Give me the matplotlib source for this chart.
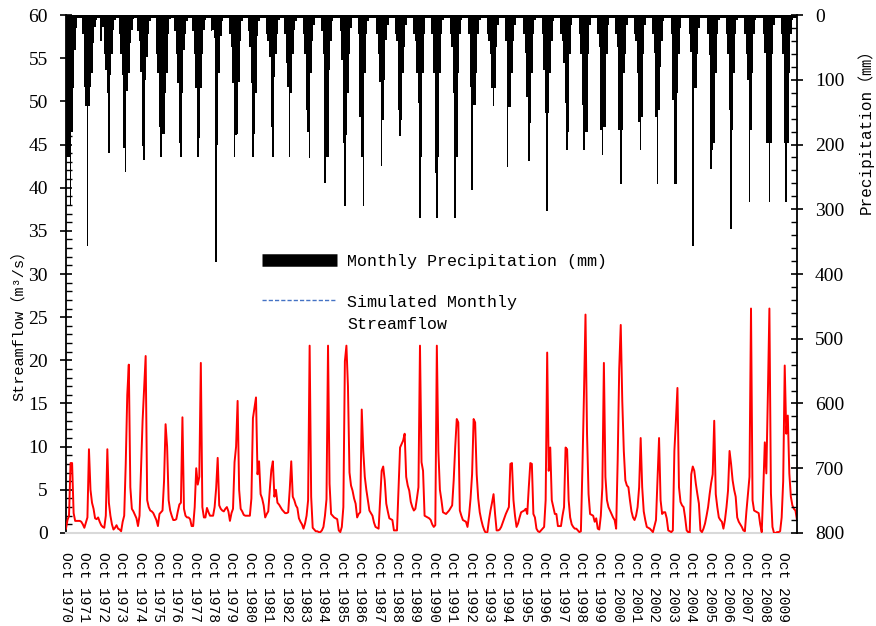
import numpy as np
import matplotlib.pyplot as plt
from matplotlib.lines import Line2D
from matplotlib.legend_handler import HandlerLine2D
from matplotlib.ticker import MultipleLocator

# water years Oct..Sep, Oct 1970 - Jul 2010
start_years = list(range(1970, 2010))

# simulated monthly streamflow (m3/s), one row per water year
flow = [
    [0.5, 1.5, 2.0, 8.1, 8.1, 2.3, 1.4, 1.4, 1.4, 1.4, 1.3, 1.0],
    [0.6, 1.2, 1.8, 9.7, 5.0, 3.5, 2.8, 1.7, 1.6, 1.8, 1.3, 0.9],
    [0.7, 0.6, 2.0, 9.7, 3.5, 2.0, 1.0, 0.4, 0.6, 0.9, 0.5, 0.4],
    [0.2, 1.3, 2.0, 8.0, 16.0, 19.5, 5.3, 2.8, 2.5, 2.1, 1.7, 0.8],
    [2.0, 7.5, 13.0, 16.8, 20.5, 3.8, 3.0, 2.6, 2.5, 2.3, 1.9, 1.5],
    [0.8, 2.2, 2.4, 2.6, 6.0, 12.6, 10.0, 3.8, 2.6, 2.0, 1.5, 1.5],
    [1.6, 2.5, 3.3, 3.5, 13.4, 2.8, 2.0, 1.8, 1.8, 1.6, 0.8, 0.8],
    [3.0, 7.5, 5.6, 6.5, 19.7, 3.0, 1.8, 1.8, 2.9, 2.4, 2.0, 2.0],
    [2.0, 3.0, 5.2, 8.7, 3.2, 2.8, 2.6, 2.5, 2.8, 3.0, 2.5, 1.4],
    [2.3, 2.8, 8.2, 10.0, 15.3, 5.0, 2.8, 2.5, 2.1, 2.0, 2.0, 2.0],
    [2.0, 4.0, 13.3, 14.5, 15.7, 6.8, 8.3, 4.5, 4.0, 3.2, 1.8, 2.2],
    [2.5, 5.0, 7.3, 8.3, 4.2, 5.0, 3.5, 3.3, 3.0, 2.7, 2.5, 2.3],
    [2.3, 2.4, 5.0, 8.3, 4.2, 3.8, 3.2, 2.9, 1.7, 1.3, 1.0, 0.5],
    [1.1, 2.0, 3.8, 21.7, 4.2, 0.6, 0.4, 0.2, 0.2, 0.1, 0.1, 0.3],
    [0.7, 2.0, 3.9, 21.7, 5.7, 2.2, 2.0, 1.8, 1.7, 1.6, 0.3, 0.1],
    [0.7, 3.0, 19.9, 21.7, 17.0, 7.0, 5.5, 4.9, 4.0, 3.4, 1.8, 2.2],
    [2.4, 14.3, 9.5, 6.5, 5.0, 3.8, 2.6, 2.3, 2.0, 1.2, 0.7, 0.6],
    [0.5, 3.8, 7.2, 7.7, 6.1, 3.4, 2.5, 1.7, 1.6, 1.5, 0.3, 0.3],
    [0.3, 5.1, 9.9, 10.3, 10.7, 11.5, 6.5, 5.5, 4.9, 3.6, 3.0, 2.6],
    [2.8, 4.0, 5.3, 21.7, 8.2, 7.2, 2.0, 1.9, 1.8, 1.7, 1.5, 1.0],
    [0.7, 0.9, 21.7, 9.5, 5.0, 3.8, 2.4, 2.3, 2.2, 2.4, 2.6, 2.9],
    [3.2, 6.1, 10.0, 13.2, 12.8, 2.6, 2.0, 1.5, 1.4, 1.3, 0.7, 2.0],
    [4.0, 6.8, 13.2, 12.8, 6.8, 4.0, 2.4, 1.5, 0.8, 0.3, 0.0, 0.1],
    [1.5, 2.6, 3.5, 4.5, 2.2, 0.3, 0.3, 0.4, 0.7, 1.2, 1.7, 2.2],
    [2.6, 3.0, 8.0, 8.1, 3.8, 2.0, 0.7, 1.1, 1.8, 2.4, 2.5, 2.6],
    [2.8, 2.2, 5.3, 8.1, 8.0, 2.2, 1.8, 0.5, 0.2, 0.1, 0.3, 0.5],
    [0.7, 3.8, 20.9, 7.2, 9.9, 3.8, 3.0, 2.2, 2.2, 0.8, 0.8, 0.8],
    [2.0, 3.0, 9.9, 9.7, 3.8, 1.8, 1.0, 0.7, 0.5, 0.5, 0.3, 0.1],
    [0.2, 7.6, 16.0, 25.3, 11.5, 4.5, 2.2, 2.1, 2.0, 1.3, 1.7, 0.5],
    [0.4, 2.0, 5.3, 19.7, 6.5, 3.8, 3.0, 2.6, 2.2, 1.8, 1.5, 0.5],
    [8.4, 19.0, 24.1, 15.3, 9.5, 6.1, 5.5, 5.3, 3.8, 2.5, 1.8, 1.5],
    [2.0, 3.0, 5.3, 11.0, 5.3, 2.5, 1.5, 0.7, 0.6, 0.5, 0.3, 0.1],
    [0.8, 1.5, 6.1, 11.0, 3.8, 2.2, 2.4, 2.4, 1.7, 0.3, 0.2, 0.1],
    [0.3, 9.5, 13.0, 16.8, 5.3, 3.6, 3.2, 3.0, 1.8, 0.3, 0.1, 0.0],
    [6.8, 7.7, 7.2, 5.7, 4.5, 3.4, 0.3, 0.1, 0.5, 1.1, 2.0, 3.0],
    [4.5, 5.8, 6.8, 13.0, 4.5, 3.0, 1.8, 1.5, 1.3, 0.5, 1.5, 3.0],
    [4.9, 9.5, 8.0, 6.1, 5.0, 4.2, 1.8, 1.3, 1.0, 0.7, 0.3, 0.2],
    [2.5, 4.5, 6.5, 26.0, 3.8, 2.6, 2.5, 2.4, 2.3, 1.0, 0.1, 5.0],
    [10.5, 6.9, 16.0, 26.0, 4.6, 0.7, 0.0, 0.0, 0.1, 0.1, 0.2, 1.8],
    [6.0, 19.4, 11.5, 13.6, 6.9, 4.2, 3.2, 2.8, 2.6, 1.5],
]

# monthly precipitation (mm), one row per water year
precip = [
    [219, 219, 219, 293, 180, 113, 54, 20, 5, 4, 4, 30],
    [111, 140, 357, 140, 111, 90, 43, 18, 8, 5, 4, 40],
    [18, 60, 85, 120, 213, 93, 60, 23, 8, 4, 4, 30],
    [60, 93, 206, 242, 118, 90, 43, 23, 6, 4, 4, 25],
    [40, 88, 203, 224, 100, 65, 30, 10, 5, 4, 4, 60],
    [90, 173, 219, 183, 183, 120, 90, 30, 6, 4, 4, 25],
    [60, 105, 198, 219, 120, 54, 30, 10, 5, 4, 4, 25],
    [60, 113, 219, 190, 113, 60, 23, 8, 5, 4, 4, 25],
    [23, 35, 381, 200, 90, 33, 10, 5, 4, 4, 4, 30],
    [50, 105, 219, 185, 183, 103, 40, 10, 5, 4, 4, 25],
    [50, 105, 219, 183, 120, 33, 10, 5, 4, 4, 4, 30],
    [40, 65, 173, 219, 96, 60, 30, 8, 4, 4, 4, 30],
    [74, 111, 219, 120, 60, 23, 10, 5, 4, 4, 4, 30],
    [60, 147, 180, 221, 90, 40, 15, 5, 4, 4, 4, 25],
    [60, 259, 219, 219, 85, 40, 10, 5, 4, 4, 4, 25],
    [70, 198, 295, 185, 120, 60, 20, 5, 4, 4, 4, 30],
    [157, 219, 295, 90, 30, 10, 5, 4, 4, 4, 4, 30],
    [60, 103, 233, 162, 100, 39, 15, 5, 4, 4, 4, 30],
    [40, 147, 187, 162, 90, 50, 15, 5, 4, 4, 4, 30],
    [40, 90, 136, 314, 219, 90, 30, 5, 4, 4, 4, 30],
    [90, 244, 314, 219, 90, 30, 8, 4, 4, 4, 4, 30],
    [50, 120, 314, 219, 90, 30, 8, 4, 4, 4, 4, 30],
    [111, 270, 139, 139, 90, 30, 8, 4, 4, 4, 4, 30],
    [40, 60, 113, 141, 113, 50, 15, 5, 4, 4, 4, 40],
    [235, 142, 142, 90, 40, 15, 5, 4, 4, 4, 4, 30],
    [59, 126, 225, 167, 90, 30, 8, 4, 4, 4, 4, 30],
    [85, 152, 303, 152, 90, 40, 10, 4, 4, 4, 4, 30],
    [40, 74, 136, 209, 180, 60, 15, 5, 4, 4, 4, 30],
    [60, 139, 209, 180, 180, 60, 15, 5, 4, 4, 4, 30],
    [49, 178, 216, 173, 173, 60, 15, 5, 4, 4, 4, 30],
    [49, 178, 261, 178, 90, 60, 15, 5, 4, 4, 4, 30],
    [40, 90, 165, 209, 157, 60, 15, 5, 4, 4, 4, 30],
    [59, 157, 261, 147, 80, 40, 10, 5, 4, 4, 4, 30],
    [131, 261, 261, 121, 60, 20, 5, 4, 4, 4, 4, 30],
    [57, 357, 113, 113, 60, 20, 5, 4, 4, 4, 4, 30],
    [62, 238, 209, 198, 90, 30, 8, 4, 4, 4, 4, 30],
    [60, 147, 330, 178, 90, 30, 8, 4, 4, 4, 4, 30],
    [60, 100, 289, 178, 90, 30, 8, 4, 4, 4, 4, 30],
    [59, 198, 198, 289, 198, 60, 15, 5, 4, 4, 4, 30],
    [60, 198, 289, 198, 90, 30, 8, 4, 4, 4],
]

tick_labels = ['Oct %d' % y for y in start_years]

flow_all = np.concatenate([np.array(r, float) for r in flow])
precip_all = np.concatenate([np.array(r, float) for r in precip])
months = np.arange(len(flow_all))

mono = ['Liberation Mono', 'Noto Sans CJK SC']
serif = 'Liberation Serif'


class TopAlignedLine(HandlerLine2D):
    # put the handle next to the first line of a two-line label
    def create_artists(self, legend, orig_handle, xdescent, ydescent,
                       width, height, fontsize, trans):
        return super().create_artists(legend, orig_handle, xdescent, ydescent - 20,
                                      width, height, fontsize, trans)


fig = plt.figure(figsize=(8.76, 6.26), dpi=100)
ax = fig.add_axes([0.0753, 0.1486, 0.8345, 0.8274])
ax2 = ax.twinx()

ax.plot(months, flow_all, color='red', lw=1.4, zorder=3)
ax2.bar(np.arange(len(precip_all)), precip_all, width=1.0, color='black', linewidth=0)

ax.set_xlim(0, len(flow_all) - 1)
ax.set_ylim(0, 60)
ax2.set_ylim(800, 0)

for a in (ax, ax2):
    a.spines['top'].set_visible(False)
ax.spines['right'].set_visible(False)
ax.spines['bottom'].set_color('#d9d9d9')
ax.spines['bottom'].set_linewidth(1.5)
ax.spines['left'].set_linewidth(1.3)
ax2.spines['bottom'].set_visible(False)
ax2.spines['left'].set_visible(False)
ax2.spines['right'].set_linewidth(1.3)

ax.yaxis.set_major_locator(MultipleLocator(5))
ax.yaxis.set_minor_locator(MultipleLocator(1))
ax2.yaxis.set_major_locator(MultipleLocator(100))
ax2.yaxis.set_minor_locator(MultipleLocator(20))
for a in (ax, ax2):
    a.tick_params(axis='y', which='major', direction='inout', length=8, width=1.2,
                  labelsize=14, pad=9)
    a.tick_params(axis='y', which='minor', direction='in', length=4, width=1.0)
    for t in a.get_yticklabels():
        t.set_fontfamily(serif)

ax.set_xticks(np.arange(0, len(flow_all), 12))
ax.set_xticklabels(tick_labels, rotation=-90, fontsize=10.5, family=mono)
ax.tick_params(axis='x', length=0, pad=14)

fig.text(0.021, 1 - 322 / 626, 'Streamflow（m³/s）', rotation=90, ha='center', va='center',
         fontsize=11, family=mono)
fig.text(865 / 876, 1 - 127 / 626, 'Precipitation（㎜）', rotation=90, ha='center', va='center',
         fontsize=11.5, family=mono)

handles = [Line2D([], [], color='black', lw=9, solid_capstyle='butt'),
           Line2D([], [], color='#4472C4', lw=1.0, ls=(0, (3, 1.5)))]
leg = fig.legend(handles, ['Monthly Precipitation (mm)', 'Simulated Monthly\nStreamflow'],
                 loc='upper left', bbox_to_anchor=(0.282, 0.618), frameon=False,
                 handlelength=4.5, handletextpad=0.6, labelspacing=1.55,
                 prop={'family': mono, 'size': 12},
                 handler_map={handles[1]: TopAlignedLine()})
for t in leg.get_texts():
    t.set_linespacing(1.6)

fig.savefig('out.png', dpi=100)
